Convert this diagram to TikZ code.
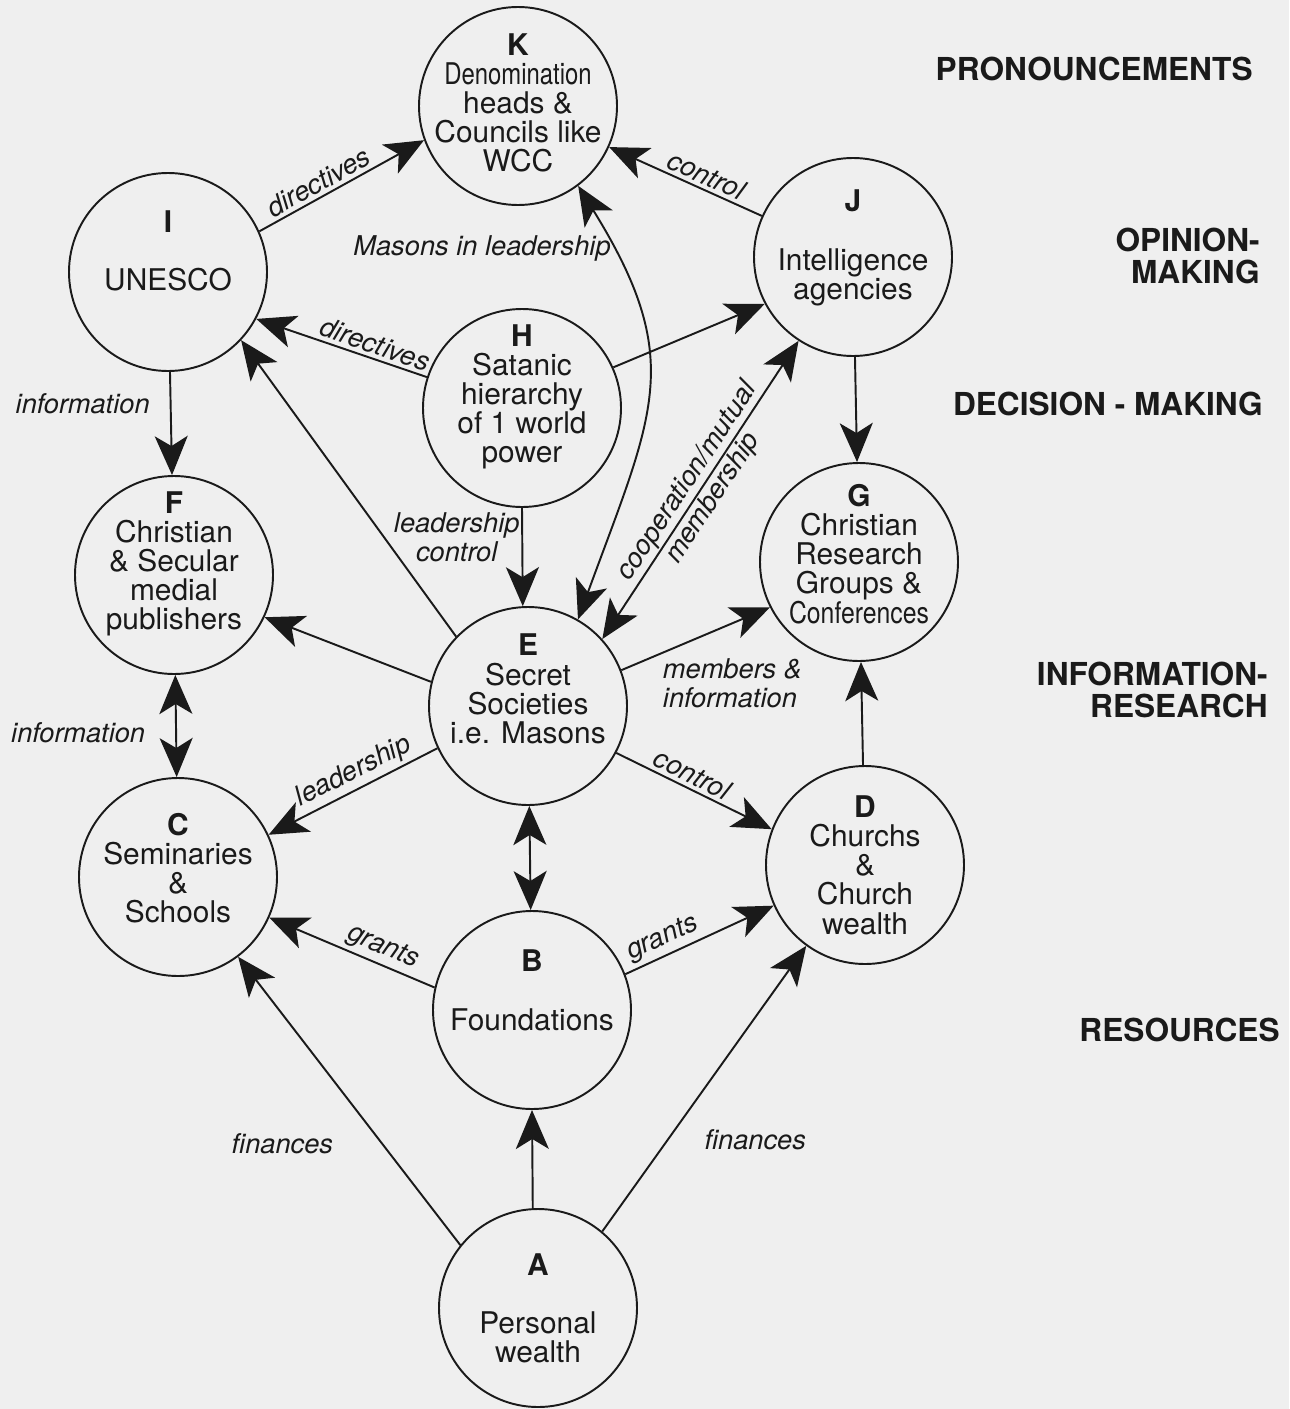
\documentclass[tikz,border=0pt]{standalone}
\usepackage{fontspec}
\setmainfont{TeX Gyre Heros}
\usetikzlibrary{arrows.meta,calc,positioning}
\definecolor{Paper}{HTML}{EFEFEF}
\definecolor{Ink}{HTML}{1A1A1A}

\tikzset{
  circ/.style={circle,draw=Ink,line width=1.1pt,minimum size=3.96cm,inner sep=0pt},
  ctext/.style={align=center,text=Ink,inner sep=0pt,font=\fontsize{17}{16.6}\selectfont},
  link/.style={-{Stealth[length=7.8mm,width=6.6mm,inset=2mm]},line width=1.1pt,draw=Ink},
  both/.style={{Stealth[length=7.8mm,width=6.6mm,inset=2mm]}-{Stealth[length=7.8mm,width=6.6mm,inset=2mm]},line width=1.1pt,draw=Ink},
  elab/.style={font=\fontsize{15.5}{16.5}\selectfont\itshape,text=Ink,inner sep=2pt},
  level/.style={font=\fontsize{18}{18.5}\selectfont\bfseries,text=Ink,align=right,anchor=east,inner sep=0pt}
}

\begin{document}
\begin{tikzpicture}[x=0.2mm,y=-0.2mm]
    \fill[Paper] (0,0) rectangle (1289,1409);
    \useasboundingbox (0,0) rectangle (1289,1409);

    % circles
    \node[circ,label={[ctext,yshift=0.6mm]center:{\textbf{K}\\\scalebox{0.8}[1]{Denomination}\\heads \&\\Councils like\\WCC}}] (K) at (518,106) {};
    \node[circ,label={[ctext,yshift=4.2mm]center:{\textbf{I}\\[5.8mm]UNESCO}}] (I) at (168,272) {};
    \node[circ,label={[ctext,yshift=1.8mm]center:{\textbf{J}\\[6mm]Intelligence\\agencies}}] (J) at (853,257) {};
    \node[circ,label={[ctext,yshift=2.2mm]center:{\textbf{H}\\Satanic\\hierarchy\\of 1 world\\power}}] (H) at (522,408) {};
    \node[circ,label={[ctext,yshift=2.2mm]center:{\textbf{F}\\Christian\\\& Secular\\medial\\publishers}}] (F) at (174,575) {};
    \node[circ,label={[ctext,yshift=1.6mm]center:{\textbf{G}\\Christian\\Research\\Groups \&\\\scalebox{0.83}[1]{Conferences}}}] (G) at (859,562) {};
    \node[circ,label={[ctext,yshift=3.4mm]center:{\textbf{E}\\Secret\\Societies\\i.e. Masons}}] (E) at (528,706) {};
    \node[circ,label={[ctext,yshift=1.8mm]center:{\textbf{C}\\Seminaries\\\&\\Schools}}] (C) at (178,877) {};
    \node[circ,label={[ctext]center:{\textbf{D}\\Churchs\\\&\\Church\\wealth}}] (D) at (865,865) {};
    \node[circ,label={[ctext,yshift=4mm]center:{\textbf{B}\\[6mm]Foundations}}] (B) at (532,1010) {};
    \node[circ,label={[ctext]center:{\textbf{A}\\[5.8mm]Personal\\wealth}}] (A) at (538,1308) {};

    % levels
    \node[level] (pron) at (1253,69) {PRONOUNCEMENTS};
    \node[level] (opin) at (1260,256) {OPINION-\\MAKING};
    \node[level] (deci) at (1263,404) {DECISION - MAKING};
    \node[level] (info) at (1268,690) {INFORMATION-\\RESEARCH};
    \node[level] (reso) at (1280,1030) {RESOURCES};

    % connectors
    \draw[link] (I.24) -- (K.200) node[elab,pos=0.4,sloped,above]{directives};
    \draw[link] (J) -- (K) node[elab,pos=0.4,sloped,above]{control};
    \draw[both] (K.-53) .. controls (686,360) and (654,412) .. node[elab,pos=0.13,anchor=east,inner sep=1pt]{Masons in leadership} (E.60);
    \draw[link] (H.162) -- (I.-28) node[elab,pos=0.33,sloped,above]{directives};
    \draw[link] (H.24) -- (J.208);
    \draw[link] (H.south) -- (E.93) node[elab,pos=0.3,left,align=center,inner sep=1pt]{leadership\\control};
    \draw[both] (E.42) -- (J.237) node[elab,midway,sloped,align=center]{cooperation/mutual\\[1pt]membership};
    \draw[link] (E.136) -- (I.-43);
    \draw[link] (E.166) -- (F.-25);
    \draw[link] (E.205) -- (C.25) node[elab,pos=0.45,sloped,above]{leadership};
    \draw[link] (E.21) -- (G.207) node[elab,pos=0.25,anchor=north west,align=left]{members \&\\information};
    \draw[link] (E.-28) -- (D.159) node[elab,pos=0.45,sloped,above]{control};
    \draw[both] (E) -- (B);
    \draw[link] (J) -- (G);
    \draw[link] (D) -- (G);
    \draw[link] (I) -- (F) node[elab,pos=0.31,left=3.3mm]{information};
    \draw[both] (F) -- (C) node[elab,pos=0.57,left=5.3mm]{information};
    \draw[link] (B.167) -- (C.-24) node[elab,pos=0.35,sloped,above]{grants};
    \draw[link] (B.21) -- (D.204) node[elab,pos=0.3,sloped,above]{grants};
    \draw[link] (A.93) -- (B.south);
    \draw[link] (A.141) -- (C.-53) node[elab,pos=0.35,left=9mm]{finances};
    \draw[link] (A.50) -- (D.234) node[elab,pos=0.32,right=6.5mm]{finances};
\end{tikzpicture}
\end{document}
